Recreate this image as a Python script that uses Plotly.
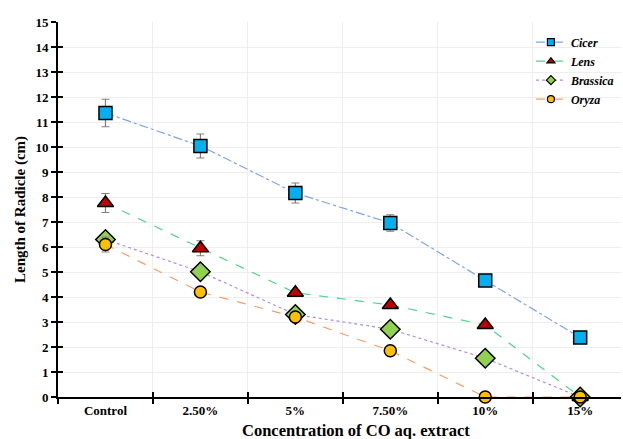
import plotly.graph_objects as go

categories = ["Control", "2.50%", "5%", "7.50%", "10%", "15%"]
cicer = [11.36, 10.04, 8.16, 6.96, 4.66, 2.38]
cicer_err = [0.55, 0.48, 0.4, 0.33, 0.1, 0.1]
lens = [7.76, 5.95, 4.17, 3.68, 2.88, 0.0]
lens_err = [0.38, 0.3, 0.1, 0.1, 0.1, 0.0]
brassica = [6.3, 5.01, 3.3, 2.71, 1.55, 0.0]
brassica_err = [0.25, 0.1, 0.1, 0.1, 0.1, 0.0]
oryza = [6.1, 4.2, 3.2, 1.85, 0.0, 0.0]
oryza_err = [0.3, 0.1, 0.1, 0.1, 0.0, 0.0]

y_ticks = list(range(0, 16))

serif = "Liberation Serif"

series = [
    ("Cicer", cicer, cicer_err, "#00B0F0", "square", 13, "#7FA6E6", "dashdot"),
    ("Lens", lens, lens_err, "#C00000", "triangle-up", 14, "#4ED48A", "dash"),
    ("Brassica", brassica, brassica_err, "#92D050", "diamond", 15, "#B48AE6", "dot"),
    ("Oryza", oryza, oryza_err, "#FFC000", "circle", 12, "#F4A066", "dash"),
]

fig = go.Figure()
for name, vals, err, mcol, sym, msize, lcol, dash in series:
    fig.add_trace(go.Scatter(
        x=categories, y=vals, name=name, mode="lines+markers",
        line=dict(color=lcol, width=1.2, dash=dash),
        marker=dict(symbol=sym, size=msize, color=mcol,
                    line=dict(color="black", width=1.5)),
        error_y=dict(type="data", array=err, visible=True,
                     color="#808080", thickness=1.2, width=4),
        cliponaxis=False, showlegend=False,
    ))

# legend-only entries with small markers
for name, vals, err, mcol, sym, msize, lcol, dash in series:
    fig.add_trace(go.Scatter(
        x=[None], y=[None], name=f"<b><i>{name}</i></b>", mode="lines+markers",
        line=dict(color=lcol, width=1.2, dash=dash),
        marker=dict(symbol=sym, size=7, color=mcol,
                    line=dict(color="black", width=1.2)),
        showlegend=True,
    ))

# overlay axes for inward tick marks (cross ticks)
fig.add_trace(go.Scatter(x=[0], y=[0], xaxis="x2", yaxis="y2", mode="markers",
                         marker=dict(opacity=0), showlegend=False, hoverinfo="skip"))

fig.update_layout(
    width=623, height=439,
    margin=dict(l=58, r=2, t=22, b=42),
    paper_bgcolor="white", plot_bgcolor="white",
    font=dict(family=serif, color="black"),
    showlegend=True,
    legend=dict(x=0.84, y=0.985, xanchor="left", yanchor="top",
                font=dict(family=serif, size=12, color="black"),
                bgcolor="rgba(0,0,0,0)", tracegroupgap=0),
    xaxis=dict(
        type="category", categoryorder="array", categoryarray=categories,
        range=[-0.5, 5.43], tickson="boundaries",
        showline=True, linecolor="black", linewidth=2,
        ticks="outside", ticklen=5, tickcolor="black", tickwidth=1.5,
        showgrid=True, gridcolor="#EEEEEE", gridwidth=1,
        tickfont=dict(family=serif, size=13, color="black"),
        tickprefix="<b>", ticksuffix="</b>",
        zeroline=False,
    ),
    yaxis=dict(
        range=[0, 15], tickvals=y_ticks, ticktext=[f"<b>{v}</b>" for v in y_ticks],
        showline=True, linecolor="black", linewidth=2,
        ticks="outside", ticklen=5, tickcolor="black", tickwidth=1.5,
        showgrid=True, gridcolor="#EEEEEE", gridwidth=1,
        tickfont=dict(family=serif, size=13, color="black"),
        title=dict(text="<b>Length of Radicle (cm)</b>",
                   font=dict(family=serif, size=15, color="black"), standoff=6),
        zeroline=False,
    ),
    xaxis2=dict(overlaying="x", range=[-0.5, 5.43], tickvals=[0.5, 1.5, 2.5, 3.5, 4.5],
                ticks="inside", ticklen=5, tickcolor="black", tickwidth=1.5,
                showticklabels=False, showgrid=False, zeroline=False, side="bottom",
                showline=False),
    yaxis2=dict(overlaying="y", range=[0, 15], tickvals=y_ticks,
                ticks="inside", ticklen=5, tickcolor="black", tickwidth=1.5,
                showticklabels=False, showgrid=False, zeroline=False, side="left",
                showline=False),
    annotations=[dict(text="<b>Concentration of CO aq. extract</b>",
                      xref="paper", yref="paper", x=0.529, y=-0.09,
                      xanchor="center", yanchor="middle", showarrow=False,
                      font=dict(family=serif, size=16.5, color="black"))],
)

fig.write_html("out.html")
